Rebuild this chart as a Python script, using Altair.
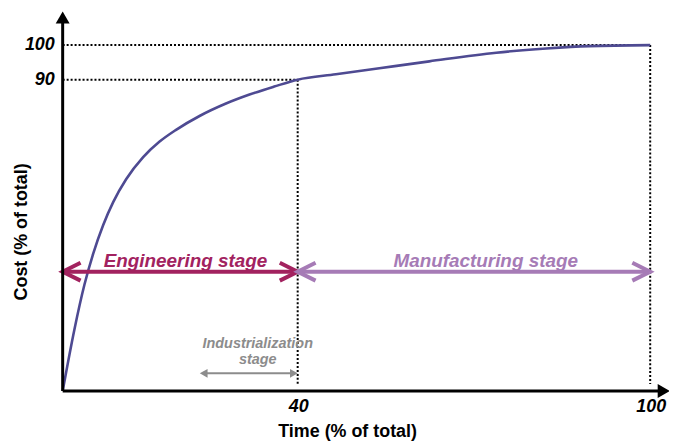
import altair as alt
import pandas as pd

# ---- data ----
curve_x = [0, 2.0, 3.7, 5.2, 6.9, 8.6, 10.8, 13.7, 16.5, 19.3, 23.3, 27.8, 31.8, 36.0, 40, 46.5, 53.9, 62.4, 73.8, 82.3, 89.6, 100]
curve_y = [0, 17.8, 30.7, 39.7, 48.0, 54.6, 61.2, 67.6, 72.1, 75.5, 79.5, 83.1, 85.7, 88.0, 90, 91.55, 93.3, 95.3, 97.8, 99.0, 99.7, 100]

x_ticks = [40, 100]
x_tick_labels = ["40", "100"]
y_ticks = [100, 90]
y_tick_labels = ["100", "90"]

stage_names = ["Engineering stage", "Manufacturing stage"]
stage_start = [0, 40]
stage_end = [40, 100]
stage_colors = ["#A2225F", "#A67BB6"]
stage_level = 34.5

indus_label = ["Industrialization", "stage"]
indus_start = 24.0
indus_end = 39.35
indus_level = 5.1

x_title = "Time (% of total)"
y_title = "Cost (% of total)"

FONT = "Liberation Sans"
X_MAX = 103.2
Y_MAX = 109.77

xs = alt.Scale(domain=[0, X_MAX], nice=False, zero=False)
ys = alt.Scale(domain=[0, Y_MAX], nice=False, zero=False)


def XY(xf="x", yf="y"):
    return dict(
        x=alt.X(f"{xf}:Q", scale=xs, axis=None),
        y=alt.Y(f"{yf}:Q", scale=ys, axis=None),
    )


curve_df = pd.DataFrame({"x": curve_x, "y": curve_y})
curve = alt.Chart(curve_df).mark_line(color="#4E4A92", strokeWidth=2.6, interpolate="monotone").encode(**XY())

# dotted guides
guides_df = pd.DataFrame({
    "x": [0, 0, 40, 100],
    "y": [100, 90, 90, 100],
    "x2": [100, 40, 40, 100],
    "y2": [100, 90, 2, 2],
})
guides = alt.Chart(guides_df).mark_rule(color="black", strokeDash=[2, 2], strokeWidth=2).encode(
    **XY(), x2="x2:Q", y2="y2:Q"
)

# axes lines with arrowheads
axes_df = pd.DataFrame({"x": [0, 0], "y": [0, 0], "x2": [102.0, 0], "y2": [0, 107.0]})
axes = alt.Chart(axes_df).mark_rule(color="black", strokeWidth=3).encode(**XY(), x2="x2:Q", y2="y2:Q")
up_head = alt.Chart(pd.DataFrame({"x": [0], "y": [108.0]})).mark_point(
    shape="triangle-up", filled=True, color="black", size=196, opacity=1
).encode(**XY())
right_head = alt.Chart(pd.DataFrame({"x": [102.3], "y": [0]})).mark_point(
    shape="triangle-right", filled=True, color="black", size=196, opacity=1
).encode(**XY())

LEFT = "M 1 -0.5 L 0 0 L 1 0.5"
RIGHT = "M -1 -0.5 L 0 0 L -1 0.5"

stage_layers = []
for name, s, e, c in zip(stage_names, stage_start, stage_end, stage_colors):
    d = pd.DataFrame({"x": [s], "y": [stage_level], "x2": [e], "y2": [stage_level]})
    stage_layers.append(alt.Chart(d).mark_rule(color=c, strokeWidth=4).encode(**XY(), x2="x2:Q", y2="y2:Q"))
    stage_layers.append(alt.Chart(pd.DataFrame({"x": [s], "y": [stage_level]})).mark_point(
        shape=LEFT, filled=False, color=c, strokeWidth=4, size=1296, opacity=1).encode(**XY()))
    stage_layers.append(alt.Chart(pd.DataFrame({"x": [e], "y": [stage_level]})).mark_point(
        shape=RIGHT, filled=False, color=c, strokeWidth=4, size=1296, opacity=1).encode(**XY()))
    stage_layers.append(alt.Chart(pd.DataFrame({"x": [(s + e) / 2 + (0.9 if s == 0 else 2.0)], "y": [37.6], "t": [name]})).mark_text(
        font=FONT, fontSize=19, fontWeight="bold", fontStyle="italic", color=c, baseline="middle", align="center"
    ).encode(**XY(), text="t:N"))

# industrialization arrow
indus_line = alt.Chart(pd.DataFrame({"x": [indus_start], "y": [indus_level], "x2": [indus_end], "y2": [indus_level]})).mark_rule(
    color="#8C8C8C", strokeWidth=2).encode(**XY(), x2="x2:Q", y2="y2:Q")
indus_heads = alt.Chart(pd.DataFrame({"x": [indus_start, indus_end], "y": [indus_level, indus_level],
                                      "s": ["triangle-left", "triangle-right"]})).mark_point(
    filled=True, color="#8C8C8C", size=81, opacity=1).encode(**XY(), shape=alt.Shape("s:N", scale=None))
indus_text = alt.Chart(pd.DataFrame({"x": [33.2, 33.2], "y": [13.5, 8.9], "t": indus_label})).mark_text(
    font=FONT, fontSize=14.5, fontWeight="bold", fontStyle="italic", color="#8C8C8C", baseline="middle", align="center"
).encode(**XY(), text="t:N")

# tick labels
ytick = alt.Chart(pd.DataFrame({"x": [0, 0], "y": y_ticks, "t": y_tick_labels})).mark_text(
    font=FONT, fontSize=18, fontWeight="bold", fontStyle="italic", color="black", align="right", baseline="middle", dx=-8
).encode(**XY(), text="t:N")
xtick = alt.Chart(pd.DataFrame({"x": x_ticks, "y": [0, 0], "t": x_tick_labels})).mark_text(
    font=FONT, fontSize=18, fontWeight="bold", fontStyle="italic", color="black", align="center", baseline="middle", dy=16, dx=1
).encode(**XY(), text="t:N")

# titles
xtitle = alt.Chart(pd.DataFrame({"x": [48.5], "y": [-11.8], "t": [x_title]})).mark_text(
    font=FONT, fontSize=18, fontWeight="bold", color="black", align="center", baseline="middle"
).encode(**XY(), text="t:N")
ytitle = alt.Chart(pd.DataFrame({"x": [-7.0], "y": [46.0], "t": [y_title]})).mark_text(
    font=FONT, fontSize=18, fontWeight="bold", color="black", align="center", baseline="middle", angle=270
).encode(**XY(), text="t:N")

chart = alt.layer(
    guides, curve, *stage_layers, indus_line, indus_heads, indus_text,
    axes, up_head, right_head, ytick, xtick, xtitle, ytitle
).properties(
    width=610, height=382,
    autosize=alt.AutoSizeParams(type="none"),
    padding={"left": 55, "top": 2, "right": 0, "bottom": 50},
).configure_view(stroke=None)

chart.save("out.html", embed_options={"renderer": "svg", "actions": False})
